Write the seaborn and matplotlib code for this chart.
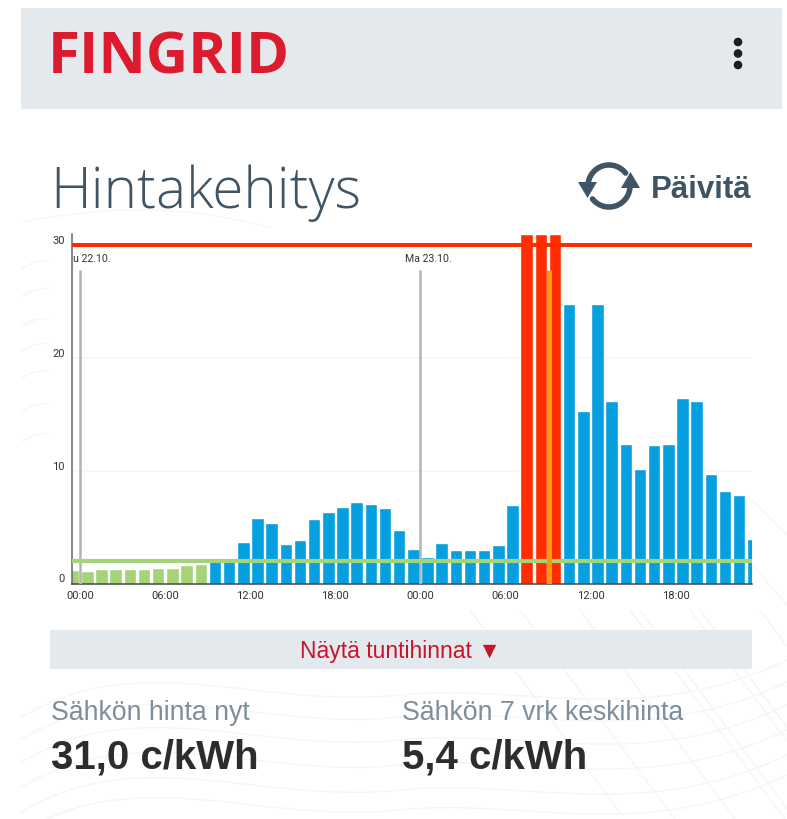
import numpy as np
import pandas as pd
import matplotlib
matplotlib.use("Agg")
import matplotlib.pyplot as plt
from matplotlib.patches import Rectangle, Polygon, Circle, PathPatch
from matplotlib.path import Path
import seaborn as sns

# hourly price, c/kWh, starting 23:00 the day before
prices = [1.18, 1.09, 1.27, 1.27, 1.27, 1.27, 1.33, 1.39, 1.62, 1.77,
          2.0, 2.2, 3.7, 5.8, 5.4, 3.5, 3.85, 5.76, 6.3, 6.8, 7.24, 7.06, 6.68, 4.73, 3.07,
          2.33, 3.63, 3.0, 3.0, 2.95, 3.45, 7.0, 31.0, 31.0, 31.0,
          24.73, 15.33, 24.73, 16.16, 12.32, 10.16, 12.23, 12.32, 16.45, 16.16, 9.66, 8.21, 7.8, 3.93]
hours = list(range(-1, len(prices) - 1))
low_limit = 1.98
high_limit = 30
now_hour = 33.1
day_starts = [0, 24]
day_labels = ["u 22.10.", "Ma 23.10."]
x_ticks = [0, 6, 12, 18, 24, 30, 36, 42]
x_labels = ["00:00", "06:00", "12:00", "18:00", "00:00", "06:00", "12:00", "18:00"]
y_ticks = [0, 10, 20, 30]

W, H = 787, 820
RED = "#ff2d00"
BLUE = "#069fe0"
GREEN = "#a5d378"
BAND = "#e4e9ee"
SLATE = "#3f5565"
LINE = "#f4f5f6"
HELV = ["Liberation Sans", "DejaVu Sans"]
OPEN = ["Open Sans", "DejaVu Sans"]

sns.set_theme(style="white")
plt.rcParams["font.family"] = ["Roboto", "DejaVu Sans"]

df = pd.DataFrame({"hour": [h + 0.5 for h in hours], "price": prices})
df["band"] = np.select([df["price"] < low_limit, df["price"] > high_limit], ["low", "high"], "mid")

fig = plt.figure(figsize=(W / 100, H / 100), dpi=100, facecolor="white")

# page layer in pixel coordinates
page = fig.add_axes([0, 0, 1, 1], zorder=0)
page.set_xlim(0, W)
page.set_ylim(H - 1, -1)
page.axis("off")

# faint background lines
for x0, x1 in [(630, 800), (690, 800), (760, 800), (470, 620), (520, 680), (580, 740), (640, 787), (700, 787)]:
    page.plot([x0, x1], [610, 610 + (x1 - x0) * 1.35], color=LINE, lw=1, zorder=0)
for y0 in [690, 712, 735, 760, 785, 805]:
    wave = Path([(20, y0 + 28), (140, y0 - 45), (260, y0 + 20), (400, y0 + 5),
                 (520, y0 - 8), (640, y0 + 40), (787, y0 - 30)],
                [Path.MOVETO, Path.CURVE4, Path.CURVE4, Path.CURVE4, Path.CURVE4, Path.CURVE4, Path.CURVE4])
    page.add_patch(PathPatch(wave, fc="none", ec=LINE, lw=1, zorder=0))
for y0 in [262, 290, 320, 345, 372, 405, 435]:
    page.plot([22, 34, 48], [y0 + 6, y0, y0 - 2], color=LINE, lw=1, zorder=0)
page.plot([752, 787], [500, 535], color=LINE, lw=1)
page.plot([752, 787], [565, 605], color=LINE, lw=1)
wave = Path([(22, 222), (110, 205), (190, 205), (270, 228)], [Path.MOVETO, Path.CURVE4, Path.CURVE4, Path.CURVE4])
page.add_patch(PathPatch(wave, fc="none", ec=LINE, lw=1))

page.add_patch(Rectangle((21, 8), 761, 101, fc=BAND, ec="none"))
page.add_patch(Rectangle((50, 630), 702, 39, fc=BAND, ec="none"))

page.text(48, 73, "FINGRID", color="#dc1c2e", fontsize=42, fontweight="bold", va="baseline", ha="left", family=OPEN)
for cy in [42, 53.5, 65]:
    page.add_patch(Circle((738, cy), 4.3, fc="#1d1d1d", ec="none"))

page.text(50, 207, "Hintakehitys", color=SLATE, fontsize=40.8, fontweight="light", va="baseline", ha="left", family=OPEN)
page.text(651, 197, "Päivitä", color=SLATE, fontsize=22.5, fontweight="bold", va="baseline", ha="left", family=HELV)

# refresh icon
ang = np.radians(np.linspace(175, 322, 40))
page.plot(609 + 21 * np.cos(ang), 186 + 21 * np.sin(ang), color=SLATE, lw=4)
ang = np.radians(np.linspace(-5, 142, 40))
page.plot(609 + 21 * np.cos(ang), 186 + 21 * np.sin(ang), color=SLATE, lw=4)
page.add_patch(Polygon([(578, 182), (597, 182), (587.5, 198)], fc=SLATE, ec="none"))
page.add_patch(Polygon([(621, 188), (640, 188), (630.5, 172)], fc=SLATE, ec="none"))

page.text(400, 651, "Näytä tuntihinnat ▼", color="#c8142a", fontsize=16.5, va="center", ha="center", family=HELV)
for x, label, value in [(51, "Sähkön hinta nyt", "31,0 c/kWh"), (402, "Sähkön 7 vrk keskihinta", "5,4 c/kWh")]:
    page.text(x, 712, label, color="#7d8f9c", fontsize=19.2, va="center", ha="left", family=HELV)
    page.text(x, 757, value, color="#2d2d2d", fontsize=29, fontweight="bold", va="center", ha="left", family=HELV)

# chart
left, right, top, bottom = 71.7, 752, 234.7, 584.5
ax = fig.add_axes([left / W, 1 - bottom / H, (right - left) / W, (bottom - top) / H], zorder=1)
ax.patch.set_alpha(0)
sns.barplot(data=df, x="hour", y="price", hue="band", dodge=False, native_scale=True, width=0.88,
            palette={"low": GREEN, "mid": BLUE, "high": RED}, saturation=1, legend=False, ax=ax, zorder=2)
ax.set_xlim(-0.607, 47.4)
ax.set_ylim(0, 31)
ax.set_xlabel("")
ax.set_ylabel("")

for v in [10, 20]:
    ax.axhline(v, color="#f6f6f6", lw=1.2, zorder=1)
ax.vlines(day_starts, 0, 27.8, color="#b4b4b4", lw=1.8, zorder=3)
ax.axhline(high_limit, color=RED, lw=2.9, zorder=3)
ax.axhline(low_limit, color=GREEN, lw=3, zorder=4)
ax.vlines(now_hour, 0, 27.8, color="#f59a0c", lw=3.6, zorder=5)

ax.text(-0.53, 28.85, day_labels[0], fontsize=7.6, color="#333333", ha="left", va="center")
ax.text(day_starts[1] - 1.07, 28.85, day_labels[1], fontsize=7.6, color="#333333", ha="left", va="center")

ax.set_xticks(x_ticks, x_labels)
ax.set_yticks(y_ticks, [str(v) for v in y_ticks])
ax.tick_params(axis="x", length=2.5, width=0.8, color="#555555", labelsize=8, labelcolor="#333333", pad=2.5)
ax.tick_params(axis="y", length=2, width=0.8, color="#555555", labelsize=8, labelcolor="#333333", pad=3)
for lab in ax.get_yticklabels():
    lab.set_va("bottom")
sns.despine(ax=ax)
ax.spines["left"].set_color("#666666")
ax.spines["left"].set_linewidth(1.1)
ax.spines["bottom"].set_color("#444444")
ax.spines["bottom"].set_linewidth(1.1)

fig.savefig("out.png", dpi=100)
